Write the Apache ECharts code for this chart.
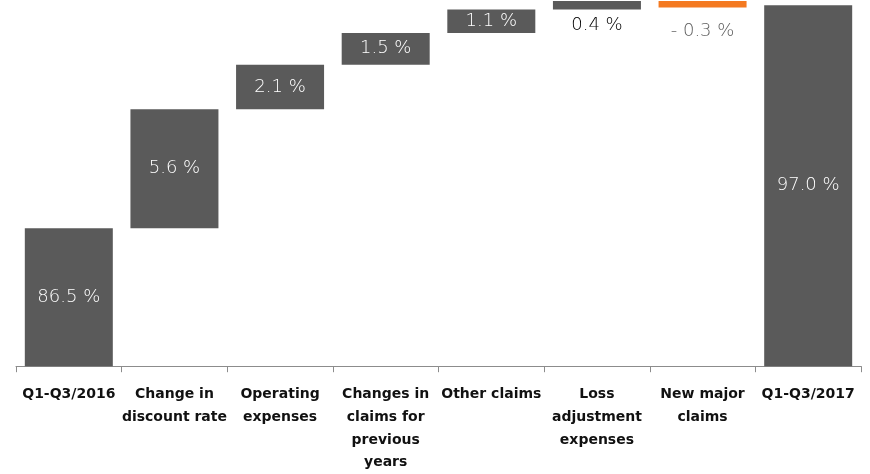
<!DOCTYPE html>
<html>
<head>
<meta charset="utf-8">
<script src="https://cdn.jsdelivr.net/npm/echarts@6/dist/echarts.min.js"></script>
<style>html,body{margin:0;padding:0;background:#fff;}#c{width:870px;height:474px;}</style>
</head>
<body>
<div id="c"></div>
<script>
const categories = ['Q1-Q3/2016', 'Change in\ndiscount rate', 'Operating\nexpenses', 'Changes in\nclaims for\nprevious\nyears', 'Other claims', 'Loss\nadjustment\nexpenses', 'New major\nclaims', 'Q1-Q3/2017'];
const values = [86.5, 5.6, 2.1, 1.5, 1.1, 0.4, -0.3, 97.0];
const isTotal = [true, false, false, false, false, false, false, true];

const DARK = '#5a5a5a', ORANGE = '#f47920';
const base = [], delta = [];
let cum = 0;
values.forEach((v, i) => {
  if (isTotal[i]) { base.push(0); cum = v; delta.push(v); }
  else if (v >= 0) { base.push(cum); delta.push(v); cum += v; }
  else { cum += v; base.push(cum); delta.push(-v); }
});
const fmt = v => (v < 0 ? '- ' + Math.abs(v).toFixed(1) : v.toFixed(1)) + ' %';
const deltaData = delta.map((d, i) => {
  const v = values[i];
  const item = { value: d, itemStyle: { color: v < 0 ? ORANGE : DARK }, label: { formatter: fmt(v) } };
  if (i === 5) item.label = { formatter: fmt(v), position: 'bottom', distance: 7, color: '#000000' };
  if (i === 6) item.label = { formatter: fmt(v), position: 'bottom', distance: 15, color: '#5e5e5e' };
  return item;
});

const chart = echarts.init(document.getElementById('c'));
chart.setOption({
  animation: false,
  grid: { left: 16, right: 9, top: 0, bottom: 103, containLabel: false },
  xAxis: {
    type: 'category', data: categories,
    axisLine: { lineStyle: { color: '#8c8c8c', width: 1 } },
    axisTick: { show: true, length: 6, lineStyle: { color: '#8c8c8c' } },
    axisLabel: { interval: 0, margin: 17, fontFamily: 'DejaVu Sans', fontWeight: 'bold', fontSize: 14, lineHeight: 22.7, color: '#111111' }
  },
  yAxis: { type: 'value', min: 80, max: 97.25, show: false, splitLine: { show: false } },
  series: [
    { type: 'bar', stack: 'w', data: base, barWidth: 88, itemStyle: { color: 'transparent' }, silent: true },
    { type: 'bar', stack: 'w', data: deltaData, barWidth: 88,
      label: { show: true, position: 'inside', color: '#ffffff', textBorderWidth: 0, textBorderColor: 'transparent', fontFamily: 'DejaVu Sans', fontWeight: 200, fontSize: 18 } }
  ]
});
</script>
</body>
</html>
